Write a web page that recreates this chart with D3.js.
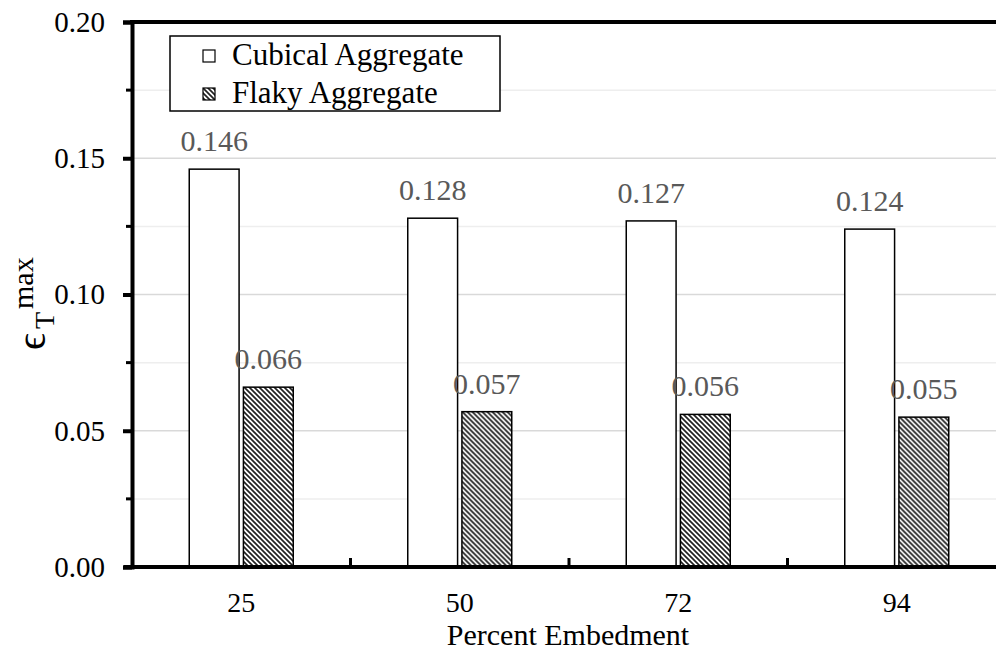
<!DOCTYPE html>
<html>
<head>
<meta charset="utf-8">
<script src="https://cdn.jsdelivr.net/npm/d3@7"></script>
<style>
  html, body { margin: 0; padding: 0; background: #fff; }
  svg { display: block; }
  text { font-family: "Liberation Serif", "Times New Roman", serif; }
</style>
</head>
<body>
<script>
const categories = ["25", "50", "72", "94"];
const seriesNames = ["Cubical Aggregate", "Flaky Aggregate"];
const cubicalValues = [0.146, 0.128, 0.127, 0.124];
const flakyValues = [0.066, 0.057, 0.056, 0.055];
const yTicks = [0, 0.05, 0.10, 0.15, 0.20];
const yMinorTicks = [0.025, 0.075, 0.125, 0.175];
const xTitle = "Percent Embedment";

const W = 996, H = 650;
const svg = d3.select("body").append("svg").attr("width", W).attr("height", H);

const defs = svg.append("defs");
const pat = defs.append("pattern").attr("id", "hatch")
  .attr("patternUnits", "userSpaceOnUse").attr("width", 5).attr("height", 5);
pat.append("rect").attr("width", 5).attr("height", 5).attr("fill", "#fff");
pat.append("path").attr("d", "M0,0 L5,5 M-1,4 L1,6 M4,-1 L6,1")
  .attr("stroke", "#222").attr("stroke-width", 1.7);

const pLeft = 132, pRight = 1006, pTop = 22, pBottom = 567;
const x0 = d3.scaleBand().domain(categories).range([pLeft, pRight]);
const bw = x0.bandwidth();
const x1 = d3.scaleBand().domain(seriesNames).range([bw / 2 - 52, bw / 2 + 52]).paddingInner(0.08);
const y = d3.scaleLinear().domain([0, 0.2]).range([pBottom, pTop]);

// gridlines
svg.append("g").selectAll("line").data(yMinorTicks).join("line")
  .attr("x1", pLeft).attr("x2", pRight).attr("y1", d => y(d)).attr("y2", d => y(d))
  .attr("stroke", "#eeeeee").attr("stroke-width", 1.5);
svg.append("g").selectAll("line").data(yTicks).join("line")
  .attr("x1", pLeft).attr("x2", pRight).attr("y1", d => y(d)).attr("y2", d => y(d))
  .attr("stroke", "#d9d9d9").attr("stroke-width", 1.5);

// bars
const data = categories.map((c, i) => ({ cat: c, vals: [
  { s: seriesNames[0], v: cubicalValues[i] },
  { s: seriesNames[1], v: flakyValues[i] }] }));

const groups = svg.append("g").selectAll("g").data(data).join("g")
  .attr("transform", d => `translate(${x0(d.cat)},0)`);
groups.selectAll("rect").data(d => d.vals).join("rect")
  .attr("x", d => x1(d.s)).attr("width", x1.bandwidth())
  .attr("y", d => y(d.v)).attr("height", d => y(0) - y(d.v))
  .attr("fill", d => d.s === seriesNames[0] ? "#fff" : "url(#hatch)")
  .attr("stroke", "#000").attr("stroke-width", 1.5);
groups.selectAll("text").data(d => d.vals).join("text")
  .attr("x", d => x1(d.s) + x1.bandwidth() / 2)
  .attr("y", d => y(d.v) - 18)
  .attr("text-anchor", "middle").attr("font-size", 30).attr("fill", "#595959")
  .text(d => d.v.toFixed(3));

// frame
svg.append("line").attr("x1", pLeft - 2).attr("x2", pRight).attr("y1", pTop).attr("y2", pTop)
  .attr("stroke", "#000").attr("stroke-width", 4);

// y axis
const yAxis = d3.axisLeft(y).tickValues(yTicks).tickSize(9).tickPadding(18)
  .tickFormat(d3.format(".2f"));
const gy = svg.append("g").attr("transform", `translate(${pLeft},0)`).call(yAxis);
gy.select(".domain").attr("stroke", "#000").attr("stroke-width", 4);
gy.selectAll(".tick line").attr("stroke", "#000").attr("stroke-width", 4);
gy.selectAll(".tick text").attr("font-size", 29).attr("fill", "#000")
  .attr("font-family", "Liberation Serif");
svg.append("g").selectAll("line").data(yMinorTicks).join("line")
  .attr("x1", pLeft - 6).attr("x2", pLeft).attr("y1", d => y(d)).attr("y2", d => y(d))
  .attr("stroke", "#000").attr("stroke-width", 3);

// x axis
const xAxis = d3.axisBottom(x0).tickSize(0).tickPadding(25);
const gx = svg.append("g").attr("transform", `translate(0,${pBottom})`).call(xAxis);
gx.select(".domain").remove();
gx.selectAll(".tick text").attr("font-size", 28).attr("fill", "#000")
  .attr("font-family", "Liberation Serif");
svg.append("line").attr("x1", pLeft - 8).attr("x2", pRight).attr("y1", pBottom).attr("y2", pBottom)
  .attr("stroke", "#000").attr("stroke-width", 4);
svg.append("g").selectAll("line").data(categories.slice(1)).join("line")
  .attr("x1", d => x0(d)).attr("x2", d => x0(d))
  .attr("y1", pBottom).attr("y2", pBottom - 9)
  .attr("stroke", "#000").attr("stroke-width", 3);

svg.append("text").attr("x", 568).attr("y", 645).attr("text-anchor", "middle")
  .attr("font-size", 30).attr("fill", "#000").text(xTitle);

// y title
const yt = svg.append("g").attr("transform", "translate(45,350) rotate(-90)");
yt.append("text").attr("x", 0).attr("y", 0).attr("font-size", 42).text("ϵ");
yt.append("text").attr("x", 21).attr("y", 9).attr("font-size", 28).text("T");
yt.append("text").attr("x", 41).attr("y", -12).attr("font-size", 30).text("max");

// legend
const lg = svg.append("g");
lg.append("rect").attr("x", 170).attr("y", 36).attr("width", 330).attr("height", 75)
  .attr("fill", "#fff").attr("stroke", "#000").attr("stroke-width", 1.5);
const li = lg.selectAll("g").data(seriesNames).join("g")
  .attr("transform", (d, i) => `translate(203,${50 + i * 38})`);
li.append("rect").attr("width", 12).attr("height", 12)
  .attr("fill", (d, i) => i === 0 ? "#fff" : "url(#hatch)")
  .attr("stroke", "#000").attr("stroke-width", 1.2);
li.append("text").attr("x", 29).attr("y", 15).attr("font-size", 31).attr("fill", "#000").text(d => d);
</script>
</body>
</html>
